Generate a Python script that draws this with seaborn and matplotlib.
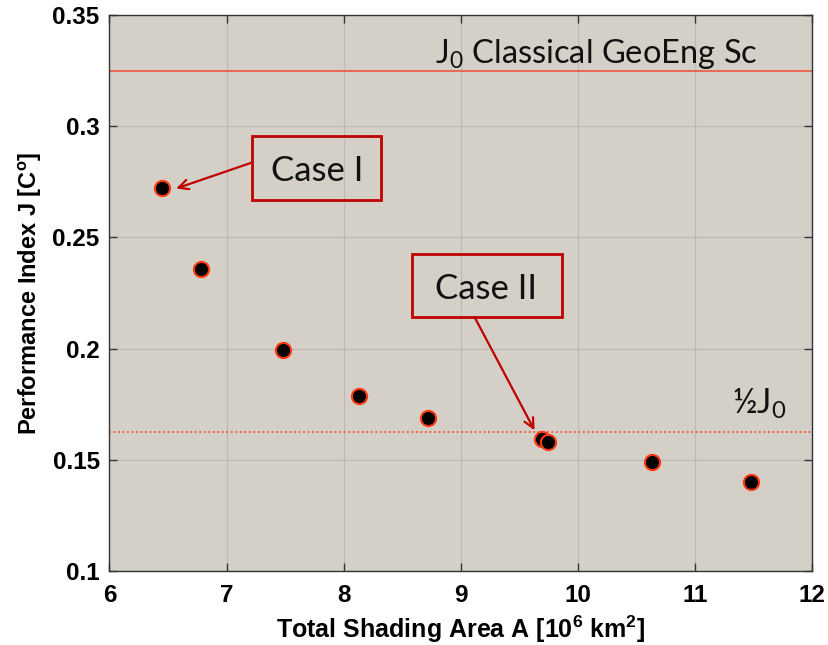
import numpy as np
import matplotlib
matplotlib.use("Agg")
import matplotlib.pyplot as plt
import seaborn as sns
from matplotlib.patches import Rectangle

# values
area = [6.45, 6.78, 7.48, 8.13, 8.72, 9.69, 9.74, 10.63, 11.48]
perf_j = [0.272, 0.236, 0.1995, 0.1785, 0.169, 0.1595, 0.1578, 0.1488, 0.1402]
j0 = 0.325
xticks = [6, 7, 8, 9, 10, 11, 12]
yticks = [0.1, 0.15, 0.2, 0.25, 0.3, 0.35]
ytick_labels = ["0.1", "0.15", "0.2", "0.25", "0.3", "0.35"]

sns.set_style("ticks")
plt.rcParams["font.family"] = ["Liberation Sans", "DejaVu Sans"]
plt.rcParams["mathtext.default"] = "regular"
plt.rcParams["text.color"] = "black"
plt.rcParams["axes.labelcolor"] = "black"
plt.rcParams["xtick.color"] = "black"
plt.rcParams["ytick.color"] = "black"

fig = plt.figure(figsize=(8.29, 6.45), dpi=100)
ax = fig.add_axes([0.132, 0.1147, 0.848, 0.862])
ax.set_facecolor("#d4d0c8")

ax.grid(True, color="#bdb9b1", linewidth=0.8)
ax.set_axisbelow(True)

ax.axhline(j0, color="#e8604a", linewidth=1.3, zorder=2)
ax.axhline(j0 / 2, color="#ff5030", linewidth=1.3, linestyle=(0, (1, 1.5)), zorder=2)

sns.scatterplot(x=area, y=perf_j, ax=ax, s=120, color="black",
                edgecolor="#ff3a10", linewidth=1.5, zorder=4)

ax.set_xlim(6, 12)
ax.set_ylim(0.1, 0.35)
ax.set_xticks(xticks)
ax.set_yticks(yticks)
ax.set_yticklabels(ytick_labels)
ax.tick_params(direction="in", length=6, width=1, top=True, right=True,
               labelsize=17.5, colors="#333333", labelcolor="black")
ax.tick_params(axis="x", pad=9)
ax.tick_params(axis="y", pad=7)
for lab in ax.get_xticklabels() + ax.get_yticklabels():
    lab.set_fontweight("bold")
for sp in ax.spines.values():
    sp.set_color("#333333")
    sp.set_linewidth(1.0)

ax.set_xlabel("Total Shading Area A [10$^6$ km$^2$]", fontsize=18, fontweight="bold", labelpad=5)
ax.set_ylabel("Performance Index J [C$^o$]", fontsize=17, fontweight="bold", labelpad=6)

note_font = ["Lato", "DejaVu Sans"]
ax.text(8.776, 0.3285, "J$_0$ Classical GeoEng Sc", fontsize=23.5, family=note_font,
        va="baseline", ha="left", color="#111111")
ax.text(11.316, 0.1708, "½J$_0$", fontsize=24.5, family=note_font,
        va="baseline", ha="left", color="#111111")

box_col = "#c00000"
# Case I
ax.add_patch(Rectangle((7.213, 0.2668), 8.321 - 7.213, 0.2955 - 0.2668,
                       facecolor="none", edgecolor=box_col, linewidth=2, zorder=5))
ax.text(7.77, 0.2812, "Case I", fontsize=25, family=note_font,
        ha="center", va="center_baseline", color="#111111", zorder=6)
ax.annotate("", xy=(6.57, 0.2720), xytext=(7.213, 0.2836),
            arrowprops=dict(arrowstyle="->,head_length=0.7,head_width=0.35",
                            color=box_col, linewidth=1.6, shrinkA=0, shrinkB=0), zorder=5)
# Case II
ax.add_patch(Rectangle((8.585, 0.2141), 9.864 - 8.585, 0.2425 - 0.2141,
                       facecolor="none", edgecolor=box_col, linewidth=2, zorder=5))
ax.text(9.216, 0.2282, "Case II", fontsize=25, family=note_font,
        ha="center", va="center_baseline", color="#111111", zorder=6)
ax.annotate("", xy=(9.628, 0.1633), xytext=(9.117, 0.2141),
            arrowprops=dict(arrowstyle="->,head_length=0.7,head_width=0.35",
                            color=box_col, linewidth=1.6, shrinkA=0, shrinkB=0), zorder=5)

fig.savefig("out.png", dpi=100, facecolor="white")
